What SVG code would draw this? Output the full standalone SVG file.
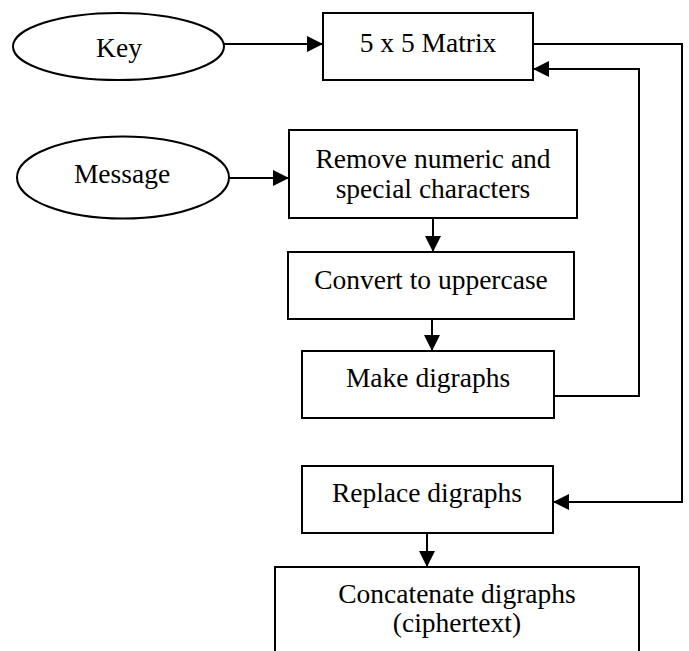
<svg xmlns="http://www.w3.org/2000/svg" width="689" height="651" viewBox="0 0 689 651">
  <style>
    .shape { fill: #ffffff; stroke: #000000; stroke-width: 2; }
    .label { font-family: "Liberation Serif", "Times New Roman", serif; font-size: 27.5px; fill: #000000; text-anchor: middle; }
    .edge { fill: none; stroke: #000000; stroke-width: 2; }
  </style>
  <defs>
    <marker id="arrow" markerUnits="userSpaceOnUse" markerWidth="17" markerHeight="17" refX="16" refY="8" orient="auto">
      <path d="M0,0 L16,8 L0,16 Z" fill="#000000"/>
    </marker>
  </defs>
  <rect width="689" height="651" fill="#ffffff"/>

  <g id="key">
    <ellipse class="shape" cx="118.5" cy="46.5" rx="105.5" ry="33.5"/>
    <text class="label" x="119" y="57">Key</text>
  </g>
  <g id="matrix">
    <rect class="shape" x="323" y="13" width="210" height="67"/>
    <text class="label" x="428" y="52">5 x 5 Matrix</text>
  </g>
  <g id="message">
    <ellipse class="shape" cx="123" cy="177.5" rx="106" ry="41"/>
    <text class="label" x="122" y="183">Message</text>
  </g>
  <g id="remove">
    <rect class="shape" x="289" y="130" width="288" height="88"/>
    <text class="label" x="433" y="168">Remove numeric and</text>
    <text class="label" x="433" y="198">special characters</text>
  </g>
  <g id="uppercase">
    <rect class="shape" x="288" y="252" width="286" height="67"/>
    <text class="label" x="431" y="289">Convert to uppercase</text>
  </g>
  <g id="make-digraphs">
    <rect class="shape" x="302" y="351" width="252" height="67"/>
    <text class="label" x="428" y="387">Make digraphs</text>
  </g>
  <g id="replace-digraphs">
    <rect class="shape" x="302" y="466" width="251" height="67"/>
    <text class="label" x="427" y="502">Replace digraphs</text>
  </g>
  <g id="concatenate">
    <rect class="shape" x="275" y="567" width="364" height="110"/>
    <text class="label" x="457" y="603">Concatenate digraphs</text>
    <text class="label" x="457" y="632">(ciphertext)</text>
  </g>

  <g id="connectors">
    <path class="edge" d="M224,44 H323" marker-end="url(#arrow)"/>
    <path class="edge" d="M229,178 H289" marker-end="url(#arrow)"/>
    <path class="edge" d="M433,218 V252" marker-end="url(#arrow)"/>
    <path class="edge" d="M432,319 V351" marker-end="url(#arrow)"/>
    <path class="edge" d="M554,396 H639 V69 H533" marker-end="url(#arrow)"/>
    <path class="edge" d="M533,44 H682 V502 H553" marker-end="url(#arrow)"/>
    <path class="edge" d="M427,533 V567" marker-end="url(#arrow)"/>
  </g>
</svg>
